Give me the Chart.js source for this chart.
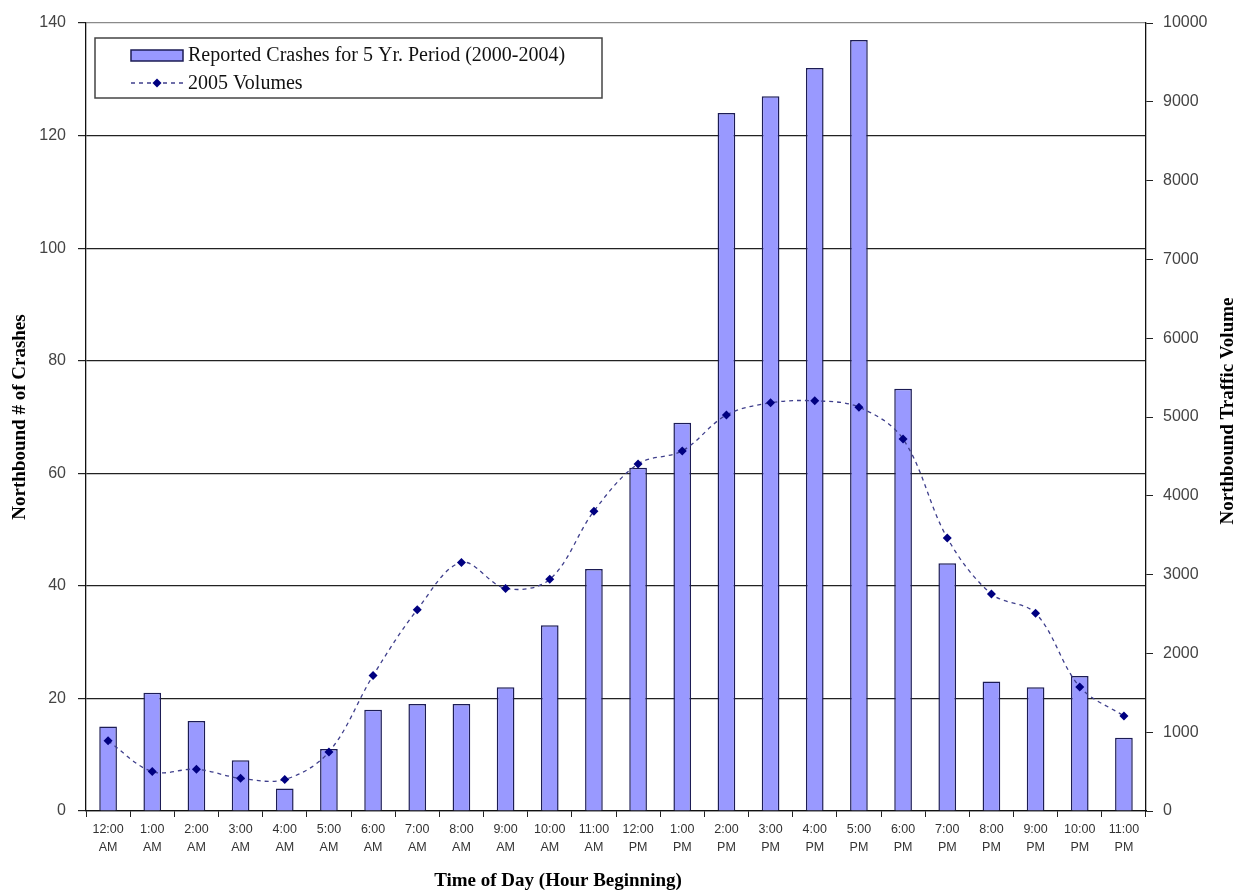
<!DOCTYPE html>
<html>
<head>
<meta charset="utf-8">
<script src="https://cdn.jsdelivr.net/npm/chart.js@4.4.1/dist/chart.umd.min.js"></script>
<style>
  html, body { margin: 0; padding: 0; background: #fff; }
  #wrap { width: 1236px; height: 892px; }
</style>
</head>
<body>
<div id="wrap"><canvas id="crashChart" width="1236" height="892"></canvas></div>
<script>
// 時刻（1時間の開始）
const hours = ['12:00 AM', '1:00 AM', '2:00 AM', '3:00 AM', '4:00 AM', '5:00 AM',
  '6:00 AM', '7:00 AM', '8:00 AM', '9:00 AM', '10:00 AM', '11:00 AM',
  '12:00 PM', '1:00 PM', '2:00 PM', '3:00 PM', '4:00 PM', '5:00 PM',
  '6:00 PM', '7:00 PM', '8:00 PM', '9:00 PM', '10:00 PM', '11:00 PM'];

// 事故件数（2000-2004）
const crashes = [15, 21, 16, 9, 4, 11, 18, 19, 19, 22, 33, 43,
  61, 69, 124, 127, 132, 137, 75, 44, 23, 22, 24, 13];

// 2005年の交通量
const volumes = [890, 500, 530, 415, 400, 750, 1720, 2555, 3155, 2825, 2940, 3805,
  4405, 4570, 5025, 5180, 5205, 5125, 4720, 3465, 2755, 2510, 1575, 1205];

// 軸の目盛り
const crashTicks = [0, 20, 40, 60, 80, 100, 120, 140];
const volumeTicks = [0, 1000, 2000, 3000, 4000, 5000, 6000, 7000, 8000, 9000, 10000];

const crashLabel = 'Reported Crashes for 5 Yr. Period (2000-2004)';
const volumeLabel = '2005 Volumes';
const xTitle = 'Time of Day (Hour Beginning)';
const leftTitle = 'Northbound # of Crashes';
const rightTitle = 'Northbound Traffic Volume';

const serif = '"Liberation Serif", "Times New Roman", serif';
const sans = '"Liberation Sans", Arial, sans-serif';

// 枠付きの凡例（グラフ内の左上）
const boxLegend = {
  id: 'boxLegend',
  afterDraw(chart) {
    const ctx = chart.ctx;
    const x = chart.chartArea.left + 9;
    const y = chart.chartArea.top + 15;
    const w = 507, h = 60;
    ctx.save();
    ctx.fillStyle = '#fff';
    ctx.fillRect(x, y, w, h);
    ctx.strokeStyle = '#444';
    ctx.lineWidth = 1.5;
    ctx.strokeRect(x, y, w, h);
    ctx.font = '20px ' + serif;
    ctx.textBaseline = 'middle';
    chart.data.datasets.forEach((ds, i) => {
      const cy = y + 17 + i * 28;
      const sx = x + 36;
      if (ds.type === 'bar') {
        ctx.fillStyle = ds.backgroundColor;
        ctx.fillRect(sx, cy - 5, 52, 11);
        ctx.strokeStyle = ds.borderColor;
        ctx.lineWidth = 1.5;
        ctx.strokeRect(sx, cy - 5, 52, 11);
      } else {
        ctx.strokeStyle = ds.borderColor;
        ctx.lineWidth = 1.3;
        ctx.setLineDash(ds.borderDash);
        ctx.beginPath();
        ctx.moveTo(sx, cy);
        ctx.lineTo(sx + 52, cy);
        ctx.stroke();
        ctx.setLineDash([]);
        ctx.fillStyle = ds.pointBackgroundColor;
        ctx.beginPath();
        ctx.moveTo(sx + 26, cy - 4.5);
        ctx.lineTo(sx + 30.5, cy);
        ctx.lineTo(sx + 26, cy + 4.5);
        ctx.lineTo(sx + 21.5, cy);
        ctx.closePath();
        ctx.fill();
      }
      ctx.fillStyle = '#111';
      ctx.fillText(ds.label, sx + 57, cy + 1);
    });
    ctx.restore();
  }
};

// 軸タイトル（右側は下から上へ）
const axisTitles = {
  id: 'axisTitles',
  afterDraw(chart) {
    const { ctx, chartArea } = chart;
    const midY = (chartArea.top + chartArea.bottom) / 2;
    ctx.save();
    ctx.font = 'bold 19px ' + serif;
    ctx.fillStyle = '#000';
    ctx.textAlign = 'center';
    ctx.textBaseline = 'middle';
    ctx.fillText(xTitle, chartArea.left + 472, chartArea.bottom + 70);
    ctx.save();
    ctx.translate(20, midY);
    ctx.rotate(-Math.PI / 2);
    ctx.fillText(leftTitle, 0, 0);
    ctx.restore();
    ctx.save();
    ctx.translate(chartArea.right + 82, midY - 6);
    ctx.rotate(-Math.PI / 2);
    ctx.fillText(rightTitle, 0, 0);
    ctx.restore();
    ctx.restore();
  }
};

const ctx = document.getElementById('crashChart');
new Chart(ctx, {
  data: {
    labels: hours.map(h => h.split(' ')),
    datasets: [
      {
        type: 'bar',
        label: crashLabel,
        data: crashes,
        yAxisID: 'y',
        backgroundColor: '#9999ff',
        borderColor: '#1c1c55',
        borderWidth: 1.5,
        barPercentage: 0.4,
        categoryPercentage: 1.0,
        order: 1
      },
      {
        type: 'line',
        label: volumeLabel,
        data: volumes,
        yAxisID: 'y2',
        borderColor: '#3f3f8c',
        borderWidth: 1.3,
        borderDash: [4, 4],
        tension: 0.35,
        pointStyle: 'rectRot',
        pointRadius: 4.5,
        pointBackgroundColor: '#000080',
        pointBorderColor: '#000080',
        pointBorderWidth: 0,
        fill: false,
        order: 0
      }
    ]
  },
  options: {
    responsive: false,
    animation: false,
    layout: { padding: { top: 23, left: 0, right: 0, bottom: 0 } },
    plugins: {
      legend: { display: false },
      tooltip: { enabled: false }
    },
    scales: {
      x: {
        offset: true,
        afterFit: s => { s.height = 81; },
        grid: {
          offset: true,
          drawOnChartArea: false,
          tickLength: 6,
          tickColor: '#222'
        },
        border: { display: true, color: '#111', width: 1.3 },
        ticks: {
          color: '#333',
          padding: 3,
          maxRotation: 0,
          autoSkip: false,
          font: { family: sans, size: 12.5, lineHeight: 1.45 }
        }
      },
      y: {
        position: 'left',
        min: 0,
        max: 140,
        afterFit: s => { s.width = 86; },
        afterBuildTicks: s => { s.ticks = crashTicks.map(v => ({ value: v })); },
        grid: {
          color: c => c.tick && c.tick.value === 140 ? '#8a8a8a' : '#222',
          lineWidth: 1.2,
          tickLength: 8,
          tickColor: '#222'
        },
        border: { display: true, color: '#111', width: 1.3 },
        ticks: {
          color: '#444',
          padding: 12,
          font: { family: sans, size: 16 },
          callback: v => String(v)
        }
      },
      y2: {
        position: 'right',
        min: 0,
        max: 10000,
        afterFit: s => { s.width = 90; },
        afterBuildTicks: s => { s.ticks = volumeTicks.map(v => ({ value: v })); },
        grid: {
          drawOnChartArea: false,
          tickLength: 7,
          tickColor: '#222'
        },
        border: { display: true, color: '#111', width: 1.3 },
        ticks: {
          color: '#444',
          padding: 10,
          font: { family: sans, size: 16 },
          callback: v => String(v)
        }
      }
    }
  },
  plugins: [boxLegend, axisTitles]
});
</script>
</body>
</html>
